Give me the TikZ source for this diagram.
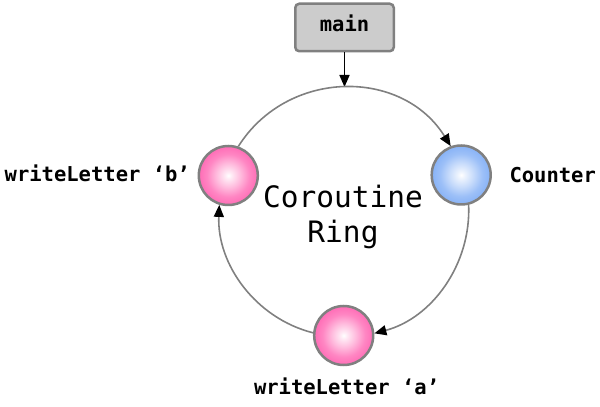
\documentclass[tikz,border=0pt]{standalone}
\usepackage{fontspec}
\setmonofont{DejaVu Sans Mono}
\usetikzlibrary{arrows.meta}
\definecolor{pinkball}{RGB}{255,108,182}
\definecolor{blueball}{RGB}{135,178,246}
\definecolor{ringgray}{RGB}{128,128,128}
\definecolor{boxfill}{RGB}{204,204,204}
\pgfdeclareradialshading{pinkshade}{\pgfpoint{0bp}{0bp}}{color(0bp)=(white); color(3bp)=(pinkball!15!white); color(10bp)=(pinkball!45!white); color(18bp)=(pinkball!82!white); color(25bp)=(pinkball); color(50bp)=(pinkball)}
\pgfdeclareradialshading{blueshade}{\pgfpoint{0bp}{0bp}}{color(0bp)=(white); color(3bp)=(blueball!15!white); color(10bp)=(blueball!45!white); color(18bp)=(blueball!82!white); color(25bp)=(blueball); color(50bp)=(blueball)}
\tikzset{
  ball/.style={circle, minimum size=59pt, inner sep=0pt, draw=ringgray, line width=2.5pt},
  pinkb/.style={ball, shading=pinkshade},
  blueb/.style={ball, shading=blueshade},
  mainbox/.style={draw=ringgray, fill=boxfill, line width=2.5pt, rounded corners=4pt,
    minimum width=98.5pt, minimum height=47.5pt, inner sep=0pt, text height=8pt, text depth=0pt,
    font=\fontsize{20.5}{24}\selectfont\ttfamily\bfseries},
  lbl/.style={inner sep=0pt, font=\fontsize{20.5}{24}\selectfont\ttfamily\bfseries},
  ringtext/.style={inner sep=0pt, align=center, font=\fontsize{29.5}{35}\selectfont\ttfamily},
  conn/.style={draw=ringgray, line width=1.6pt, -{Triangle[length=12pt,width=10pt,color=black]}},
  mainarrow/.style={draw=black, line width=1.6pt, -{Triangle[length=12pt,width=10pt]}}
}
\begin{document}
\begin{tikzpicture}[x=1pt,y=1pt]
\useasboundingbox (0,0) rectangle (600,407);
\node[mainbox] (main) at (344.5,379.5) {main};
\coordinate (ringtop) at (344.5,320);
\node[pinkb] (b) at (228.3,231.5) {};
\node[blueb] (c) at (461.2,232) {};
\node[pinkb] (a) at (343.7,71.5) {};
\node[ringtext] (ring) at (343,190) {Coroutine\\Ring};
\node[lbl, anchor=base west] (lb) at (4.5,225.3) {writeLetter ‘b’};
\node[lbl, anchor=base west] (lc) at (509.3,224.3) {Counter};
\node[lbl, anchor=base west] (la) at (253.8,12) {writeLetter ‘a’};
\draw[mainarrow] (main.south) -- (ringtop);
\draw[conn] (b.71.7) to[out=57.7, in=121.9, looseness=1.112] (c.110.9);
\draw[conn] (c.-76.4) to[out=-87.6, in=14.8, looseness=0.957] (a.4.6);
\draw[conn] (a.175.7) to[out=165.8, in=-92.4, looseness=0.959] (b.253.6);
\end{tikzpicture}
\end{document}
